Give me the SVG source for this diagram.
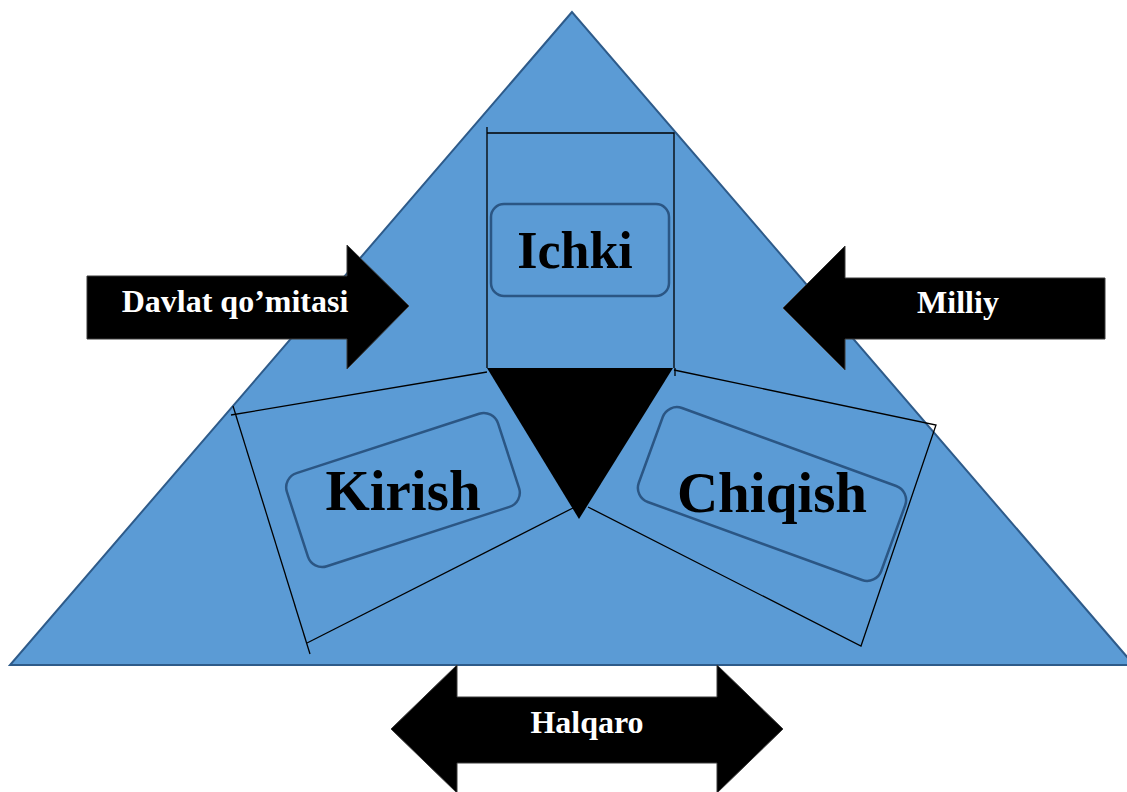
<svg xmlns="http://www.w3.org/2000/svg" width="1127" height="792" viewBox="0 0 1127 792">
<style>
.tri{fill:#5B9BD5;stroke:#2E5B8A;stroke-width:2}
.ln{fill:none;stroke:#000;stroke-width:1.3}
.rr{fill:none;stroke:#2B5684;stroke-width:2.5}
.big{font-family:"Liberation Serif","Times New Roman",serif;font-weight:bold;font-size:57px;fill:#000;text-anchor:middle}
.blk{fill:#000;stroke:#3a3a3a;stroke-width:1}
.lbl{font-family:"Liberation Serif","Times New Roman",serif;font-weight:bold;font-size:32px;fill:#fff;text-anchor:middle}
</style>
<rect width="1127" height="792" fill="#fff"/>
<g id="pyramid">
<polygon class="tri" points="572,12 10,665 1134,665"/>
</g>
<g id="connectors">
<polyline class="ln" points="487,127 487,368"/>
<polyline class="ln" points="487,133 674,133 674,368"/>
<polyline class="ln" points="487,372 231,415"/>
<polyline class="ln" points="233,406 310,654"/>
<polyline class="ln" points="307,643 573,508"/>
<polyline class="ln" points="675,368 675,376"/>
<polyline class="ln" points="674,370 936,425 861,646 588,507"/>
</g>
<g id="center">
<polygon points="487,368 673,368 579,519" fill="#000"/>
</g>
<g id="ichki">
<rect class="rr" x="491" y="204" width="178" height="92" rx="13"/>
<text class="big" x="575" y="268" style="font-size:52px">Ichki</text>
</g>
<g id="kirish">
<rect class="rr" x="-111" y="-49" width="222" height="98" rx="15" transform="translate(403,490) rotate(-18)"/>
<text class="big" x="403" y="510">Kirish</text>
</g>
<g id="chiqish">
<rect class="rr" x="-129" y="-50" width="258" height="100" rx="15" transform="translate(772,494) rotate(20)"/>
<text class="big" x="772" y="512">Chiqish</text>
</g>
<g id="davlat">
<polygon class="blk" points="87,276 347,276 347,245 409,306 347,369 347,339 87,339"/>
<text class="lbl" x="235" y="312">Davlat qo’mitasi</text>
</g>
<g id="milliy">
<polygon class="blk" points="1105,278 845,278 845,246 783,308 845,370 845,339 1105,339"/>
<text class="lbl" x="958" y="313">Milliy</text>
</g>
<g id="halqaro">
<polygon class="blk" points="391,729 457,665 457,697 717,697 717,665 783,729 717,793 717,763 457,763 457,793"/>
<text class="lbl" x="587" y="733">Halqaro</text>
</g>
</svg>
